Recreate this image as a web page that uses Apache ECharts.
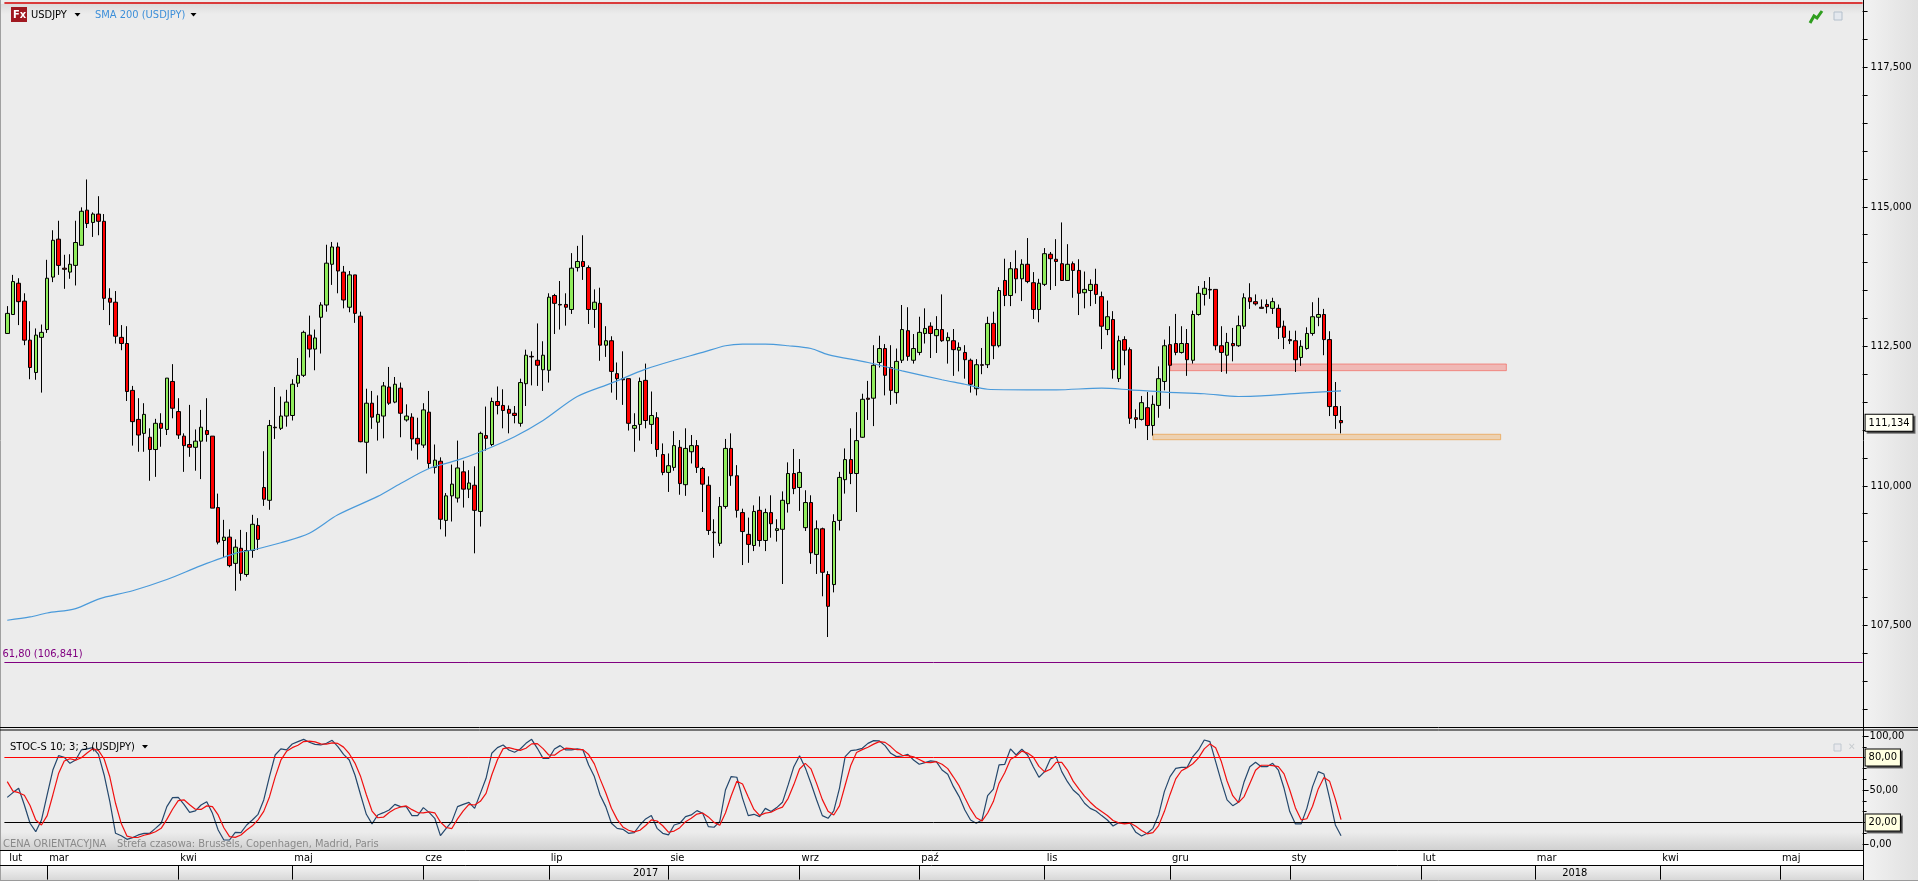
<!DOCTYPE html>
<html><head><meta charset="utf-8">
<script src="https://cdn.jsdelivr.net/npm/echarts@6/dist/echarts.min.js"></script>
<style>html,body{margin:0;padding:0;background:#ececec;overflow:hidden}#c{width:1918px;height:881px}</style>
</head><body><div id="c"></div>
<script>
const opens=[112.73,113.07,113.63,113.31,112.61,112.03,112.66,112.80,113.74,114.42,
113.90,113.83,113.95,114.31,114.94,114.72,114.87,114.74,113.36,113.29,
112.66,112.55,111.71,111.19,110.94,110.87,110.65,111.12,111.01,111.87,
111.33,110.89,110.74,110.69,110.80,110.99,110.89,109.61,109.02,109.08,
108.61,108.88,108.41,108.84,109.29,109.97,109.74,111.05,111.03,111.25,
111.26,111.84,111.98,112.70,112.45,113.02,113.24,113.97,114.28,113.83,
113.20,113.78,113.04,110.78,111.48,111.14,111.25,111.77,111.50,111.75,
111.18,111.23,110.85,110.73,111.32,110.33,110.44,109.38,109.82,109.78,
110.25,109.94,110.01,109.54,110.90,110.74,111.51,111.44,111.37,111.30,
111.12,111.83,112.32,112.25,112.08,112.07,113.41,113.25,113.25,113.16,
113.91,114.02,113.91,113.16,113.27,112.52,112.60,112.01,111.92,111.92,
111.03,111.10,111.89,111.10,111.22,110.56,110.24,110.33,110.69,110.02,
110.61,110.72,110.31,110.01,109.17,108.97,109.63,110.67,110.18,109.52,
109.13,108.93,109.56,109.02,109.52,109.20,109.22,109.68,110.22,109.97,
109.25,109.70,108.77,109.23,108.41,108.23,109.38,110.11,110.47,110.22,
110.87,111.57,111.57,112.21,112.46,112.12,111.67,112.25,112.78,112.25,
112.39,112.73,112.86,112.69,112.80,112.60,112.60,112.43,112.39,112.25,
111.74,112.17,112.17,112.91,112.51,113.68,113.41,113.89,113.71,113.97,
113.64,113.16,113.61,114.15,114.06,113.98,113.68,113.98,113.86,113.46,
113.50,113.61,113.39,112.80,112.98,111.92,112.62,112.44,111.22,111.19,
111.40,111.08,111.44,111.87,112.53,112.55,112.39,112.55,112.25,113.07,
113.43,113.52,113.52,112.51,112.34,112.55,112.51,112.86,113.37,113.30,
113.20,113.25,113.18,113.18,112.86,112.62,112.60,112.30,112.46,112.73,
113.02,113.07,112.62,111.42,111.17];
const closes=[113.09,113.66,113.30,112.61,112.12,112.70,112.75,113.72,114.40,113.95,
113.88,113.97,114.36,114.92,114.70,114.87,114.74,113.36,113.29,112.68,
112.55,111.69,111.15,110.91,111.28,110.65,111.12,111.03,111.93,111.39,
110.91,110.72,110.69,110.80,111.05,110.92,109.60,108.99,109.08,108.57,
108.90,108.43,108.84,109.31,109.04,109.76,111.08,111.04,111.25,111.50,
111.82,111.98,112.75,112.45,112.65,113.24,113.99,114.28,113.85,113.33,
113.78,113.09,110.79,111.48,111.23,111.28,111.79,111.48,111.82,111.30,
111.25,110.84,110.75,111.36,110.40,110.46,109.40,109.82,110.03,110.32,
109.94,110.05,109.56,110.94,110.85,111.51,111.44,111.35,111.30,111.26,
111.85,112.34,112.31,112.16,112.34,113.38,113.27,113.24,113.20,113.90,
114.02,113.93,113.16,113.29,112.52,112.60,112.05,111.92,111.90,111.12,
111.08,111.87,111.17,111.26,110.65,110.24,110.36,110.72,110.04,110.67,
110.72,110.33,110.03,109.20,109.16,109.63,110.67,110.18,109.56,109.18,
108.95,109.54,109.02,109.52,109.32,109.23,109.74,110.22,109.95,110.24,
109.70,108.80,109.23,108.45,107.84,109.36,110.15,110.47,110.22,110.81,
111.55,111.55,112.16,112.46,111.98,111.71,112.23,112.80,112.32,112.46,
112.75,112.82,112.73,112.80,112.60,112.66,112.44,112.48,112.26,111.82,
112.17,112.16,112.91,112.51,113.50,113.41,113.89,113.71,113.97,113.66,
113.16,113.63,114.16,114.07,114.02,113.68,113.97,113.86,113.45,113.52,
113.61,113.43,112.86,113.03,112.08,112.60,112.43,111.21,111.19,111.49,
111.08,111.46,111.92,112.51,112.16,112.39,112.55,112.26,113.07,113.45,
113.54,113.51,112.51,112.39,112.57,112.51,112.87,113.37,113.30,113.26,
113.18,113.21,113.30,112.84,112.66,112.60,112.26,112.50,112.73,113.03,
113.07,112.62,111.42,111.26,111.13];
const highs=[113.22,113.78,113.72,113.45,112.95,112.82,112.89,114.05,114.58,114.75,
114.14,114.15,114.75,114.99,115.49,114.90,115.19,114.87,113.54,113.49,
112.88,112.86,111.79,111.57,111.48,111.03,111.20,111.30,111.93,112.18,
111.57,110.94,111.45,111.01,111.36,111.57,110.89,109.86,109.39,109.22,
109.04,109.21,109.17,109.48,109.42,110.62,111.18,111.77,111.60,111.72,
111.91,112.29,112.78,113.05,112.80,113.29,114.32,114.37,114.36,113.94,
113.85,113.78,113.12,111.74,111.70,111.62,111.86,112.13,111.95,111.85,
111.46,111.30,111.22,111.48,111.70,110.74,110.51,109.87,110.38,110.81,
110.45,110.28,110.35,110.97,111.42,111.58,111.78,111.73,111.44,111.43,
111.92,112.44,112.41,112.91,112.59,113.45,113.44,113.67,113.45,114.17,
114.30,114.49,113.95,113.52,113.55,112.86,112.68,112.21,112.41,111.92,
111.30,111.94,112.19,111.69,111.32,110.76,110.58,110.98,110.82,111.03,
110.91,110.82,110.34,110.17,109.40,109.80,110.84,110.94,110.37,109.59,
109.43,109.65,109.81,109.59,109.83,109.40,109.90,110.42,110.66,110.48,
109.92,109.83,109.38,109.25,108.47,109.49,110.25,110.67,111.03,111.32,
111.65,111.88,112.52,112.69,112.54,112.52,112.46,113.24,113.20,112.72,
113.03,113.18,112.93,113.04,113.43,112.75,112.81,112.57,112.52,112.28,
112.27,112.47,113.03,113.12,113.56,114.07,114.01,114.22,114.06,114.44,
113.83,113.71,114.26,114.19,114.42,114.72,114.33,114.02,114.06,113.84,
113.70,113.89,113.48,113.32,113.13,112.69,112.68,112.48,111.37,111.61,
111.68,111.62,112.14,112.62,112.86,113.08,112.86,112.81,113.14,113.58,
113.67,113.74,113.52,112.86,112.74,112.83,113.05,113.45,113.63,113.43,
113.34,113.34,113.37,113.25,112.96,112.78,112.78,112.61,112.84,113.29,
113.37,113.17,112.77,111.86,111.43];
const lows=[112.73,113.07,112.88,112.52,111.91,111.90,111.67,112.74,113.65,113.78,
113.53,113.71,113.59,114.31,114.62,114.46,114.49,113.15,112.88,112.55,
112.43,111.52,110.72,110.61,110.61,110.09,110.16,110.70,110.91,111.21,
110.84,110.25,110.52,110.27,110.12,110.79,109.60,108.95,108.72,108.54,
108.12,108.30,108.37,108.71,108.85,109.64,109.57,110.84,111.00,111.06,
111.17,111.77,111.95,112.30,112.07,112.37,113.12,113.60,113.45,113.18,
113.11,112.92,110.78,110.22,111.02,110.81,110.85,111.45,111.48,110.87,
111.15,110.63,110.47,110.68,110.30,110.22,109.22,109.09,109.36,109.70,
109.61,109.78,108.79,109.27,110.63,110.71,111.28,111.03,110.94,111.12,
111.06,111.43,111.80,111.79,111.70,111.85,112.72,112.80,112.87,113.08,
113.84,113.69,112.90,112.83,112.24,112.31,111.67,111.54,111.45,110.99,
110.61,110.81,111.03,110.75,110.52,110.19,109.89,110.27,109.84,109.82,
110.40,110.23,109.53,109.12,108.71,108.92,109.59,110.00,109.43,108.58,
108.62,108.83,108.91,108.83,109.07,109.00,108.24,109.52,109.85,109.55,
109.19,108.60,108.42,108.02,107.29,108.09,109.20,109.86,110.03,109.53,
110.86,111.18,111.07,112.12,111.62,111.45,111.47,112.20,112.24,112.19,
112.34,112.55,112.29,112.38,112.58,112.19,111.97,112.05,111.92,111.67,
111.62,112.00,112.11,112.27,112.48,113.22,113.22,113.45,113.31,113.63,
112.99,112.93,113.58,113.51,113.58,113.67,113.67,113.37,113.06,113.18,
113.22,113.26,112.45,112.70,111.92,111.86,112.16,111.11,111.03,111.17,
110.82,110.90,111.22,111.71,111.38,112.34,112.37,111.97,112.19,113.05,
113.23,113.35,112.43,112.04,112.01,112.23,112.49,112.81,113.17,113.23,
113.18,113.09,113.08,112.63,112.45,112.54,112.04,112.15,112.44,112.69,
112.86,112.34,111.25,111.02,110.94];
const smaIdx=[0,4,7,12,16,22,28,34,40,43,48,53,58,65,69,74,79,83,89,94,100,106,112,117,122,126,129,133,137,141,144,151,157,164,168,172,179,184,192,197,203,210,216,220,227,234];
const smaVal=[107.59,107.65,107.72,107.80,107.97,108.12,108.32,108.57,108.79,108.85,108.98,109.15,109.48,109.81,110.04,110.31,110.46,110.61,110.88,111.17,111.60,111.84,112.09,112.25,112.39,112.51,112.54,112.54,112.51,112.46,112.35,112.21,112.06,111.90,111.82,111.73,111.72,111.72,111.75,111.72,111.68,111.65,111.60,111.61,111.66,111.70];
const stochK=[43.2,47.6,51.6,36.1,19.2,11.4,22.2,45.4,68.5,81.8,80.3,74.7,77.8,87.1,88,89.2,83,63.9,39.2,9.9,
7.7,4.3,5.9,8.4,9.9,9.9,14.5,19.2,34.6,42.9,43.2,36.7,29.3,30.6,36.1,39.2,28.4,13,3.7,3.7,
10.8,10.5,17.6,22.2,27.5,40.8,62.4,82.4,88,87.1,92.6,94.8,96.9,94.2,92.3,91.7,93.2,96,90.1,83,
77.8,63.9,45.4,27.5,18.6,26.9,29,31.5,36.7,34.6,34.6,26.3,26.3,33.7,29.3,23.8,7.7,14.5,20.7,34.6,
36.7,38.6,33,46.9,60.8,84,89.2,91.7,87.1,84.9,88,93.2,96.9,88.6,79.3,79.3,88,91.1,87.1,87.1,
88,87.1,73.2,62.4,45.4,34.6,19.2,14.5,13.6,9.9,10.5,17.6,23.2,26.3,14.5,9.9,8.4,17.6,19.2,25.3,
26.9,30.9,28.4,16.1,15.5,20.7,50,62.4,61.8,42.3,26.3,27.5,25.3,33,30,33.7,38.6,54.7,71.6,81.8,
70.7,56.2,40.8,26.3,23.8,30.6,51.6,80.9,86.4,87.1,88.6,93.2,95.7,95.4,91.1,84,80.9,81.5,83,77.8,
73.8,75.3,76.9,76.3,68.5,64.5,53.1,43.9,31.5,22.2,19.2,22.2,44.8,50.9,73.2,73.8,88,82.4,87.7,82.4,
71.6,61.8,67,78.7,80.9,67,57.7,50,45.4,37.7,33,30.6,26.3,22.2,16.7,19.8,19.2,19.2,10.8,7.4,
9.9,14.5,26.9,48.5,62.4,70.1,71,71,80.9,87.1,96.3,94.8,76.3,57.7,40.8,35.5,38.6,57.7,71.6,75.6,
71.6,71.6,74.7,68.5,51.6,30,18.6,18.6,33,53.1,67,64.8,42.3,17.6,7.7];
const stochD=[57.7,49,47.5,45.1,35.6,22.2,17.6,26.3,45.4,65.2,76.9,78.9,77.6,79.9,84.3,88.1,86.7,78.7,62,37.7,
18.9,7.3,6,6.2,8.1,9.4,11.4,14.5,22.8,32.2,40.2,40.9,36.4,32.2,32,35.3,34.6,26.9,15,6.8,
6.1,8.3,13,16.8,22.4,30.2,43.6,61.9,77.6,85.8,89.2,91.5,94.8,95.3,94.5,92.7,92.4,93.6,93.1,89.7,
83.6,74.9,62.4,45.6,30.5,24.3,24.8,29.1,32.4,34.3,35.3,31.8,29.1,28.8,29.8,28.9,20.3,15.3,14.3,23.3,
30.7,36.6,36.1,39.5,46.9,63.9,78,88.3,89.3,87.9,86.7,88.7,92.7,92.9,88.3,82.4,82.2,86.1,88.7,88.4,
87.4,87.4,82.8,74.2,60.3,47.5,33.1,22.8,15.8,12.7,11.3,12.7,17.1,22.4,21.3,16.9,10.9,12,15.1,20.7,
23.8,27.7,28.7,25.1,20,17.4,28.7,44.4,58.1,55.5,43.5,32,26.4,28.6,29.4,32.2,34.1,42.3,55,69.4,
74.7,69.6,55.9,41.1,30.3,26.9,35.3,54.4,73,84.8,87.4,89.6,92.5,94.8,94.1,90.2,85.3,82.1,81.8,80.8,
78.2,75.6,75.3,76.2,73.9,69.8,62,53.8,42.8,32.5,24.3,21.2,28.7,39.3,56.3,66,78.3,81.4,86,84.2,
80.6,71.9,66.8,69.2,75.5,75.5,68.5,58.2,51,44.4,38.7,33.8,30,26.4,21.7,19.6,18.6,19.4,16.4,12.5,
9.4,10.6,17.1,30,45.9,60.3,67.8,70.7,74.3,79.7,88.1,92.7,89.1,76.3,58.3,44.7,38.3,43.9,56,68.3,
72.9,72.9,72.6,71.6,64.9,50,33.4,22.4,23.4,34.9,51,61.6,58,41.6,22.5];
const slotCount=326;
const monthLabels=['lut','mar','kwi','maj','cze','lip','sie','wrz','paź','lis','gru','sty','lut','mar','kwi','maj'];
const monthIdx=[0,7,30,50,73,95,116,139,160,182,204,225,248,268,290,311];
const yearLabels=['2017','2018'];
const yearIdx=[112,275];
const yearDivider=[225];
const priceLabelled=[107.5,110,112.5,115,117.5];
const stochLabelled=[0,50,100];
const lastPrice=111.134, fibPrice=106.841, fibTop=118.647;
const zoneRed=[112.063,112.183], zoneOrange=[110.826,110.923];

const F='"DejaVu Sans Condensed","DejaVu Sans",sans-serif';
const slots=Array.from({length:slotCount},(_,i)=>String(i));
const candle=opens.map((o,i)=>[o,closes[i],lows[i],highs[i]]);
const sma=smaIdx.map((x,i)=>[x,smaVal[i]]);
const L=4.4,W=1858.2;
const line=(x1,y1,x2,y2,c,w)=>({type:'line',z:50,silent:true,shape:{x1,y1,x2,y2},style:{stroke:c||'#000',lineWidth:w||1}});
const txt=(x,y,t,c,z)=>({type:'text',x,y,z:z||60,silent:true,style:{text:t,fill:c||'#000',font:'11px '+F,textVerticalAlign:'middle'}});
const tri=(x,y,c)=>({type:'polygon',z:60,silent:true,shape:{points:[[x,y],[x+6,y],[x+3,y+3.5]]},style:{fill:c||'#000'}});
const grad=(x,y,width,height,stops,h)=>({type:'rect',z:-1,silent:true,shape:{x,y,width,height},style:{fill:new echarts.graphic.LinearGradient(0,0,h?1:0,h?0:1,stops.map((c,i)=>({offset:i/(stops.length-1),color:c})))}});

const chart=echarts.init(document.getElementById('c'),null,{renderer:'canvas'});
const tagLabel=(t,bg)=>({show:true,position:'end',distance:3,formatter:t,color:'#000',fontFamily:F,fontSize:11,backgroundColor:bg,borderColor:'#000',borderWidth:1,padding:[3,3,2,3],shadowColor:'rgba(0,0,0,.5)',shadowBlur:0,shadowOffsetX:2,shadowOffsetY:2});
chart.setOption({
 animation:false,backgroundColor:'#ececec',
 grid:[
  {left:L,width:W,top:-16.4,height:725.4,outerBoundsMode:'none'},
  {left:L,width:W,top:736,height:108,outerBoundsMode:'none'},
  {left:L,width:W,top:851,height:14.3,outerBoundsMode:'none'},
  {left:L,width:W,top:866,height:15,outerBoundsMode:'none'}
 ],
 xAxis:[
  {type:'category',gridIndex:0,data:slots,show:false},
  {type:'category',gridIndex:1,data:slots,show:false},
  {type:'category',gridIndex:2,data:slots,position:'top',axisLine:{show:false},
   axisTick:{show:true,alignWithLabel:true,inside:true,length:14.3,lineStyle:{color:'#000'},interval:i=>i>0&&monthIdx.includes(i)},
   axisLabel:{show:true,inside:true,margin:2,align:'left',padding:[0,0,0,2],color:'#000',fontFamily:F,fontSize:11,
     interval:i=>monthIdx.includes(i),formatter:(v,i)=>monthLabels[monthIdx.indexOf(+v)]||''}},
  {type:'category',gridIndex:3,data:slots,position:'top',axisLine:{show:false},
   axisTick:{show:true,alignWithLabel:true,inside:true,length:15,lineStyle:{color:'#000'},interval:i=>yearDivider.includes(i)},
   axisLabel:{show:true,inside:true,margin:2,color:'#000',fontFamily:F,fontSize:11,
     interval:i=>yearIdx.includes(i),formatter:(v)=>yearLabels[yearIdx.indexOf(+v)]||''}}
 ],
 yAxis:[
  {type:'value',gridIndex:0,position:'right',min:106,max:119,interval:0.5,scale:true,splitLine:{show:false},
   axisLine:{show:false},axisTick:{show:true,length:5,lineStyle:{color:'#000'}},
   axisLabel:{margin:8,color:'#000',fontFamily:F,fontSize:11,formatter:v=>priceLabelled.includes(v)?v.toFixed(3).replace('.',','):''}},
  {type:'value',gridIndex:1,position:'right',min:0,max:100,interval:50,splitLine:{show:false},
   axisLine:{show:false},axisTick:{show:true,length:6,lineStyle:{color:'#000'}},
   minorTick:{show:true,splitNumber:5,length:4,lineStyle:{color:'#000'}},
   axisLabel:{margin:7,color:'#000',fontFamily:F,fontSize:11,formatter:v=>stochLabelled.includes(v)?v.toFixed(2).replace('.',','):''}},
  {type:'value',gridIndex:2,show:false},
  {type:'value',gridIndex:3,show:false}
 ],
 series:[
  {type:'candlestick',name:'USDJPY',xAxisIndex:0,yAxisIndex:0,data:candle,barWidth:4,clip:false,
   itemStyle:{color:'#90ec5c',color0:'#ff0000',borderColor:'#000',borderColor0:'#000',borderColorDoji:'#000',borderWidth:1},
   markLine:{silent:true,symbol:'none',animation:false,data:[
     {yAxis:fibTop,lineStyle:{color:'#d40000',width:1.5,type:'solid'},label:{show:false}},
     {yAxis:fibPrice,lineStyle:{color:'#800080',width:1,type:'solid'},
      label:{show:true,position:'insideStartTop',distance:[-2,2],formatter:'61,80 (106,841)',color:'#800080',fontFamily:F,fontSize:11}},
     {yAxis:lastPrice,lineStyle:{color:'rgba(0,0,0,0)',width:1,type:'solid'},label:tagLabel('111,134','#fffff4')}
   ]},
   markArea:{silent:true,animation:false,data:[
     [{xAxis:204,yAxis:zoneRed[1],itemStyle:{color:'rgba(250,90,80,.35)',borderColor:'rgba(240,90,80,.6)',borderWidth:1}},{xAxis:263,yAxis:zoneRed[0]}],
     [{xAxis:201,yAxis:zoneOrange[1],itemStyle:{color:'rgba(240,170,90,.4)',borderColor:'rgba(235,165,85,.8)',borderWidth:1}},{xAxis:262,yAxis:zoneOrange[0]}]
   ]}},
  {type:'line',name:'SMA 200 (USDJPY)',xAxisIndex:0,yAxisIndex:0,data:sma,smooth:0.3,symbol:'none',lineStyle:{color:'#4a9ada',width:1.2},z:5},
  {type:'line',name:'%K',xAxisIndex:1,yAxisIndex:1,data:stochK,symbol:'none',lineStyle:{color:'#24476c',width:1.2},z:4,
   markLine:{silent:true,symbol:'none',animation:false,data:[
     {yAxis:80,lineStyle:{color:'#ff0000',width:1,type:'solid'},label:tagLabel('80,00','#ffffe1')},
     {yAxis:20,lineStyle:{color:'#000',width:1,type:'solid'},label:tagLabel('20,00','#ffffe1')}
   ]}},
  {type:'line',name:'%D',xAxisIndex:1,yAxisIndex:1,data:stochD,symbol:'none',lineStyle:{color:'#f01010',width:1.2},z:5}
 ],
 graphic:[
  grad(1864,0,54,881,['#f2f2f2','#e0e0e0'],true),
  grad(0,4,1863,10,['#dcdcdc','#ececec']),
  grad(0,832,1863,19,['#ececec','#cfcfcf']),
  grad(0,866,1863,15,['#f2f2f2','#d6d6d6']),
  {type:'rect',z:-1,silent:true,shape:{x:0,y:851,width:1863,height:14},style:{fill:'#fff'}},
  line(0.5,0,0.5,881,'#a0a0a0',1),
  line(0,727.5,1918,727.5),line(0,730,1918,730),
  line(1863.5,0,1863.5,881),
  line(0,850.5,1863,850.5),line(0,865.5,1863,865.5),
  line(0,880.5,1918,880.5,'#9a9a9a',1),
  {type:'rect',z:60,silent:true,shape:{x:11,y:7,width:16,height:15},style:{fill:'#a01820'}},
  {type:'text',x:13,y:15,z:61,silent:true,style:{text:'Fx',fill:'#fff',font:'bold 11px '+F,textVerticalAlign:'middle'}},
  txt(31,15,'USDJPY'),tri(74.5,13),
  txt(95,15,'SMA 200 (USDJPY)','#3d8fd9'),tri(190.5,13),
  txt(10,747,'STOC-S 10; 3; 3 (USDJPY)'),tri(142,745),
  txt(3,844,'CENA ORIENTACYJNA','#8a8a8a'),
  txt(117,844,'Strefa czasowa: Brussels, Copenhagen, Madrid, Paris','#8a8a8a'),
  {type:'polyline',z:60,silent:true,shape:{points:[[1810,23],[1814,16],[1817,18],[1822,11]]},style:{stroke:'#2f9e1f',lineWidth:3,fill:'none'}},
  {type:'rect',z:60,silent:true,shape:{x:1834,y:12,width:8,height:8},style:{fill:'#e4e8ee',stroke:'#b4c0cc'}},
  {type:'rect',z:60,silent:true,shape:{x:1834,y:744,width:7,height:7},style:{fill:'#e8e8ec',stroke:'#c0c8d0'}},
  {type:'text',x:1848,y:747,z:60,silent:true,style:{text:'✕',fill:'#c8ccd0',font:'10px '+F,textVerticalAlign:'middle'}}
 ]
});
</script></body></html>
